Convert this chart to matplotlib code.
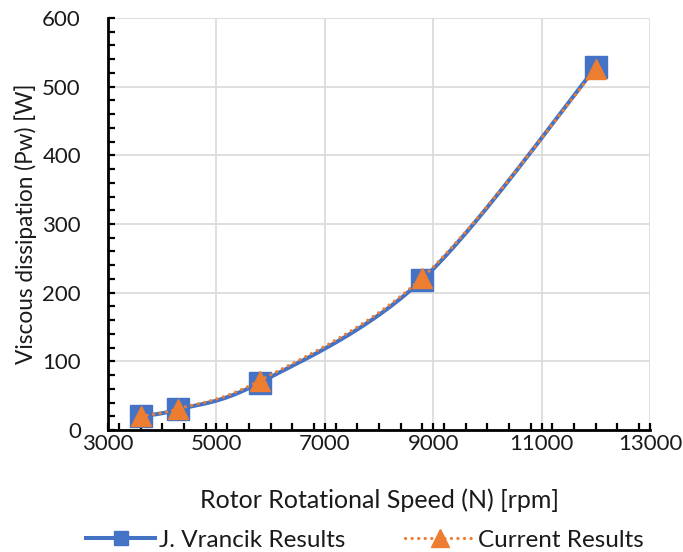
import numpy as np
import matplotlib
matplotlib.use("Agg")
import matplotlib.pyplot as plt
from matplotlib.ticker import MultipleLocator

plt.rcParams['font.family'] = ['Lato', 'DejaVu Sans']

# Rotor speed [rpm] and viscous dissipation [W]
speed_vrancik = [3600, 4300, 5800, 8800, 12000]
power_vrancik = [20, 30, 69, 219, 528]
speed_current = [3600, 4300, 5800, 8800, 12000]
power_current = [20, 31, 72, 222, 526]

x_ticks = [3000, 5000, 7000, 9000, 11000, 13000]
y_ticks = [0, 100, 200, 300, 400, 500, 600]

BLUE = '#4472C4'
ORANGE = '#ED7D31'
TEXT = '#1a1a1a'


def smooth_curve(xs, ys, n=40):
    """Cardinal (Catmull-Rom) Bezier smoothing as used for smoothed spreadsheet lines."""
    p = np.column_stack([xs, ys]).astype(float)
    pts = np.vstack([p[0], p, p[-1]])
    out = []
    t = np.linspace(0, 1, n)[:, None]
    for i in range(1, len(pts) - 2):
        p0, p1, p2, p3 = pts[i - 1], pts[i], pts[i + 1], pts[i + 2]
        c1 = p1 + (p2 - p0) / 6.0
        c2 = p2 - (p3 - p1) / 6.0
        seg = ((1 - t) ** 3) * p1 + 3 * ((1 - t) ** 2) * t * c1 + 3 * (1 - t) * t ** 2 * c2 + t ** 3 * p2
        out.append(seg if i == 1 else seg[1:])
    seg = np.vstack(out)
    return seg[:, 0], seg[:, 1]


fig = plt.figure(figsize=(6.83, 5.52), dpi=100)
ax = fig.add_axes([108 / 683, 1 - 430 / 552, 542 / 683, 412 / 552])

bx, by = smooth_curve(speed_vrancik, power_vrancik)
ax.plot(bx, by, color=BLUE, lw=2.9, solid_capstyle='round', zorder=3)
ax.plot(speed_vrancik, power_vrancik, linestyle='none', marker='s', ms=16.5,
        color=BLUE, zorder=4)

ox, oy = smooth_curve(speed_current, power_current)
ax.plot(ox, oy, color=ORANGE, lw=2.3, linestyle=(0, (0.05, 2.0)),
        dash_capstyle='round', zorder=5)
ax.plot(speed_current, power_current, linestyle='none', marker='^', ms=15,
        color=ORANGE, zorder=6)

ax.set_xlim(3000, 13000)
ax.set_ylim(0, 600)
ax.set_xticks(x_ticks)
ax.set_yticks(y_ticks)
ax.xaxis.set_minor_locator(MultipleLocator(400))
ax.yaxis.set_minor_locator(MultipleLocator(20))
ax.tick_params(which='both', direction='in', length=5, width=1.6, color='black',
               labelsize=16, labelcolor=TEXT)
ax.tick_params(axis='x', which='major', pad=3)
ax.tick_params(axis='y', which='major', pad=19.5)

ax.grid(True, which='major', color='#d9d9d9', lw=1.2, zorder=0)
ax.set_axisbelow(True)
for side in ('top', 'right'):
    ax.spines[side].set_visible(False)
for side in ('left', 'bottom'):
    ax.spines[side].set_linewidth(2.0)
    ax.spines[side].set_color('black')
    ax.spines[side].set_zorder(7)

ax.set_xlabel('Rotor Rotational Speed (N) [rpm]', fontsize=18, color=TEXT, labelpad=25)
ax.set_ylabel('Viscous dissipation (Pw) [W]', fontsize=16.3, color=TEXT, labelpad=4)

h1, = ax.plot([], [], color=BLUE, lw=2.9, marker='s', ms=10.5)
h2, = ax.plot([], [], color=ORANGE, lw=2.3, linestyle=(0, (0.05, 2.0)),
              dash_capstyle='round', marker='^', ms=13)
fig.legend([h1, h2], ['J. Vrancik Results', 'Current Results'], loc='center',
           bbox_to_anchor=(365 / 683, 1 - 540 / 552), ncol=2, frameon=False,
           fontsize=17.5, handlelength=2.85, columnspacing=2.45, handletextpad=0.16,
           labelcolor=TEXT, borderaxespad=0, borderpad=0)

fig.savefig('out.png', dpi=100)
